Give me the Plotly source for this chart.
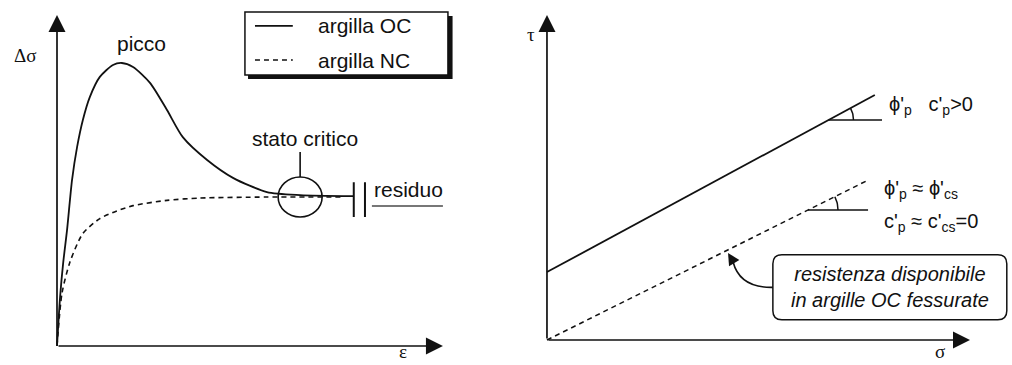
import numpy as np
import plotly.graph_objects as go

W, H = 1012, 365

# ---------------- data (schematic) ----------------
# left panel: stress-strain curves (epsilon, delta sigma), arbitrary units
eps_oc = [0, 0.08, 0.16, 0.26, 0.39, 0.52, 0.67, 0.85, 1.11, 1.45, 1.68, 1.97, 2.41, 2.85,
          3.26, 3.89, 4.56, 5.44, 6.30, 7.67]
dsig_oc = [0, 1.48, 2.51, 3.50, 5.02, 6.01, 6.83, 7.52, 8.13, 8.49, 8.55, 8.43, 7.95, 7.13,
           6.31, 5.62, 5.08, 4.65, 4.56, 4.53]
eps_nc = [0, 0.13, 0.34, 0.67, 1.11, 1.55, 1.97, 2.85, 3.70, 5.44, 7.41]
dsig_nc = [0, 1.60, 2.55, 3.40, 3.85, 4.08, 4.24, 4.40, 4.47, 4.50, 4.50]
crit_state = (6.30, 4.50)        # stato critico point
residual_eps = [7.69, 7.98]      # break marks before "residuo"

# right panel: failure envelopes (sigma, tau)
sigma_peak = [0, 7.75]
tau_peak = [2.09, 7.54]
sigma_cs = [0, 7.59]
tau_cs = [0, 4.92]

legend_names = ["argilla OC", "argilla NC"]

# ---------------- axes geometry ----------------
XL = dict(domain=[0, 0.48], range=[-1.477, 11.11])
YL = dict(domain=[0, 1], range=[-0.574, 10.453])
XR = dict(domain=[0.48, 1], range=[-1.447, 10.993])
YR = dict(domain=[0, 1], range=[-0.769, 10.462])


def ppu(ax, n):
    return n * (ax["domain"][1] - ax["domain"][0]) / (ax["range"][1] - ax["range"][0])


sxL, syL = ppu(XL, W), ppu(YL, H)
sxR, syR = ppu(XR, W), ppu(YR, H)

FONT = "Liberation Sans, Arial, sans-serif"
SERIF = "Liberation Serif, Times New Roman, serif"
BLK = "#111111"

fig = go.Figure()

fig.add_trace(go.Scatter(x=eps_oc, y=dsig_oc, mode="lines", name=legend_names[0],
                         line=dict(color=BLK, width=1.8, shape="spline", smoothing=0.7),
                         xaxis="x", yaxis="y", showlegend=False))
fig.add_trace(go.Scatter(x=eps_nc, y=dsig_nc, mode="lines", name=legend_names[1],
                         line=dict(color=BLK, width=1.6, dash="5px,4px", shape="spline", smoothing=0.7),
                         xaxis="x", yaxis="y", showlegend=False))
fig.add_trace(go.Scatter(x=sigma_peak, y=tau_peak, mode="lines",
                         line=dict(color=BLK, width=1.8), xaxis="x2", yaxis="y2", showlegend=False))
fig.add_trace(go.Scatter(x=sigma_cs, y=tau_cs, mode="lines",
                         line=dict(color=BLK, width=1.5, dash="5px,4px"), xaxis="x2", yaxis="y2", showlegend=False))

shapes = []
ann = []

# axes arrows
for xr, yr in (("x", "y"), ("x2", "y2")):
    for tip in ((10, 0), (0, 10)):
        ann.append(dict(x=tip[0], y=tip[1], ax=0, ay=0, xref=xr, yref=yr, axref=xr, ayref=yr,
                        text="", showarrow=True, arrowhead=2, arrowsize=2.0, arrowwidth=1.7,
                        arrowcolor=BLK))

# ---- left panel decorations ----
# legend box with shadow
shapes.append(dict(type="rect", xref="x", yref="y", x0=4.95, x1=10.25, y0=8.07, y1=9.97,
                   fillcolor=BLK, line=dict(width=0)))
shapes.append(dict(type="rect", xref="x", yref="y", x0=4.87, x1=10.13, y0=8.19, y1=10.09,
                   fillcolor="white", line=dict(color=BLK, width=1.5)))
shapes.append(dict(type="line", xref="x", yref="y", x0=5.13, x1=6.11, y0=9.67, y1=9.67,
                   line=dict(color=BLK, width=1.7)))
shapes.append(dict(type="line", xref="x", yref="y", x0=5.13, x1=6.11, y0=8.64, y1=8.64,
                   line=dict(color=BLK, width=1.6, dash="5px,4px")))
ann.append(dict(x=6.71, y=9.67, xref="x", yref="y", text=legend_names[0], showarrow=False,
                xanchor="left", font=dict(size=21, family=FONT, color=BLK)))
ann.append(dict(x=6.71, y=8.64, xref="x", yref="y", text=legend_names[1], showarrow=False,
                xanchor="left", font=dict(size=21, family=FONT, color=BLK)))

# critical state circle + leader
cx, cy = crit_state
shapes.append(dict(type="circle", xref="x", yref="y", x0=cx - 22 / sxL, x1=cx + 22 / sxL,
                   y0=cy - 20 / syL, y1=cy + 20 / syL, line=dict(color=BLK, width=1.6)))
shapes.append(dict(type="line", xref="x", yref="y", x0=cx, x1=cx, y0=cy + 20 / syL, y1=cy + 45 / syL,
                   line=dict(color=BLK, width=1.6)))
ann.append(dict(x=cx + 0.12, y=6.28, xref="x", yref="y", text="stato critico", showarrow=False,
                font=dict(size=21, family=FONT, color=BLK)))
# residual break marks
for xb in residual_eps:
    shapes.append(dict(type="line", xref="x", yref="y", x0=xb, x1=xb, y0=3.90, y1=4.95,
                       line=dict(color=BLK, width=2)))
shapes.append(dict(type="line", xref="x", yref="y", x0=8.16, x1=10.0, y0=4.23, y1=4.23,
                   line=dict(color="#777777", width=2)))
ann.append(dict(x=8.16, y=4.74, xref="x", yref="y", text="residuo", showarrow=False,
                xanchor="left", font=dict(size=21, family=FONT, color=BLK)))
ann.append(dict(x=2.20, y=9.15, xref="x", yref="y", text="picco", showarrow=False,
                font=dict(size=21, family=FONT, color=BLK)))
ann.append(dict(x=-0.83, y=8.79, xref="x", yref="y", text="Δσ", showarrow=False,
                font=dict(size=19, family=SERIF, color=BLK)))
ann.append(dict(x=8.96, y=-0.544, xref="x", yref="y", text="ε", showarrow=False,
                yanchor="bottom", font=dict(size=19, family=SERIF, color=BLK)))

# ---- right panel decorations ----
def angle_mark(xs, ys, y_at, x_end, r_px):
    slope = (ys[1] - ys[0]) / (xs[1] - xs[0])
    x0 = xs[0] + (y_at - ys[0]) / slope
    shapes.append(dict(type="line", xref="x2", yref="y2", x0=x0, x1=x_end, y0=y_at, y1=y_at,
                       line=dict(color=BLK, width=1.6)))
    ang = np.arctan(slope * syR / sxR)
    t = np.linspace(0, ang, 12)
    ax_ = x0 + r_px * np.cos(t) / sxR
    ay_ = y_at + r_px * np.sin(t) / syR
    fig.add_trace(go.Scatter(x=ax_, y=ay_, mode="lines", line=dict(color=BLK, width=1.5),
                             xaxis="x2", yaxis="y2", showlegend=False, hoverinfo="skip"))


angle_mark(sigma_peak, tau_peak, 6.77, 7.92, 25)
angle_mark(sigma_cs, tau_cs, 4.00, 7.59, 30)

ann.append(dict(x=8.04, y=7.23, xref="x2", yref="y2",
                text="ϕ'<sub>p</sub>&nbsp;&nbsp; c'<sub>p</sub>&gt;0", showarrow=False,
                xanchor="left", font=dict(size=20, family=FONT, color=BLK)))
ann.append(dict(x=7.92, y=4.62, xref="x2", yref="y2",
                text="ϕ'<sub>p</sub> ≈ ϕ'<sub>cs</sub>", showarrow=False,
                xanchor="left", font=dict(size=20, family=FONT, color=BLK)))
ann.append(dict(x=7.92, y=3.63, xref="x2", yref="y2",
                text="c'<sub>p</sub> ≈ c'<sub>cs</sub>=0", showarrow=False,
                xanchor="left", font=dict(size=20, family=FONT, color=BLK)))
ann.append(dict(x=-0.38, y=9.4, xref="x2", yref="y2", text="τ", showarrow=False,
                font=dict(size=19, family=SERIF, color=BLK)))
ann.append(dict(x=9.29, y=-0.738, xref="x2", yref="y2", text="σ", showarrow=False,
                yanchor="bottom", font=dict(size=19, family=SERIF, color=BLK)))

# callout box (rounded)
bx0, bx1, by0, by1 = 5.34, 10.87, 0.62, 2.62
rx, ry = 9 / sxR, 9 / syR
path = (f"M {bx0 + rx},{by1} L {bx1 - rx},{by1} Q {bx1},{by1} {bx1},{by1 - ry} "
        f"L {bx1},{by0 + ry} Q {bx1},{by0} {bx1 - rx},{by0} L {bx0 + rx},{by0} "
        f"Q {bx0},{by0} {bx0},{by0 + ry} L {bx0},{by1 - ry} Q {bx0},{by1} {bx0 + rx},{by1} Z")
shapes.append(dict(type="path", xref="x2", yref="y2", path=path, fillcolor="white",
                   line=dict(color=BLK, width=1.5)))
ann.append(dict(x=(bx0 + bx1) / 2, y=(by0 + by1) / 2, xref="x2", yref="y2",
                text="<i>resistenza disponibile<br>in argille OC fessurate</i>", showarrow=False,
                font=dict(size=20, family=FONT, color=BLK)))
# curved pointer
shapes.append(dict(type="path", xref="x2", yref="y2",
                   path=f"M {bx0},{(by0 + by1) / 2} Q 4.56,1.60 4.40,2.40",
                   line=dict(color=BLK, width=1.6)))
ann.append(dict(x=4.28, y=2.68, xref="x2", yref="y2", ax=6, ay=10, text="", showarrow=True,
                arrowhead=2, arrowsize=1.6, arrowwidth=1.5, arrowcolor=BLK))

fig.update_layout(
    width=W, height=H, margin=dict(l=0, r=0, t=0, b=0),
    paper_bgcolor="white", plot_bgcolor="white",
    xaxis=dict(XL, visible=False, anchor="y"),
    yaxis=dict(YL, visible=False, anchor="x"),
    xaxis2=dict(XR, visible=False, anchor="y2"),
    yaxis2=dict(YR, visible=False, anchor="x2"),
    shapes=shapes, annotations=ann, showlegend=False,
)

fig.write_html("out.html", config={"displayModeBar": False},
               post_script="document.body.style.margin='0';document.body.style.overflow='hidden';")
